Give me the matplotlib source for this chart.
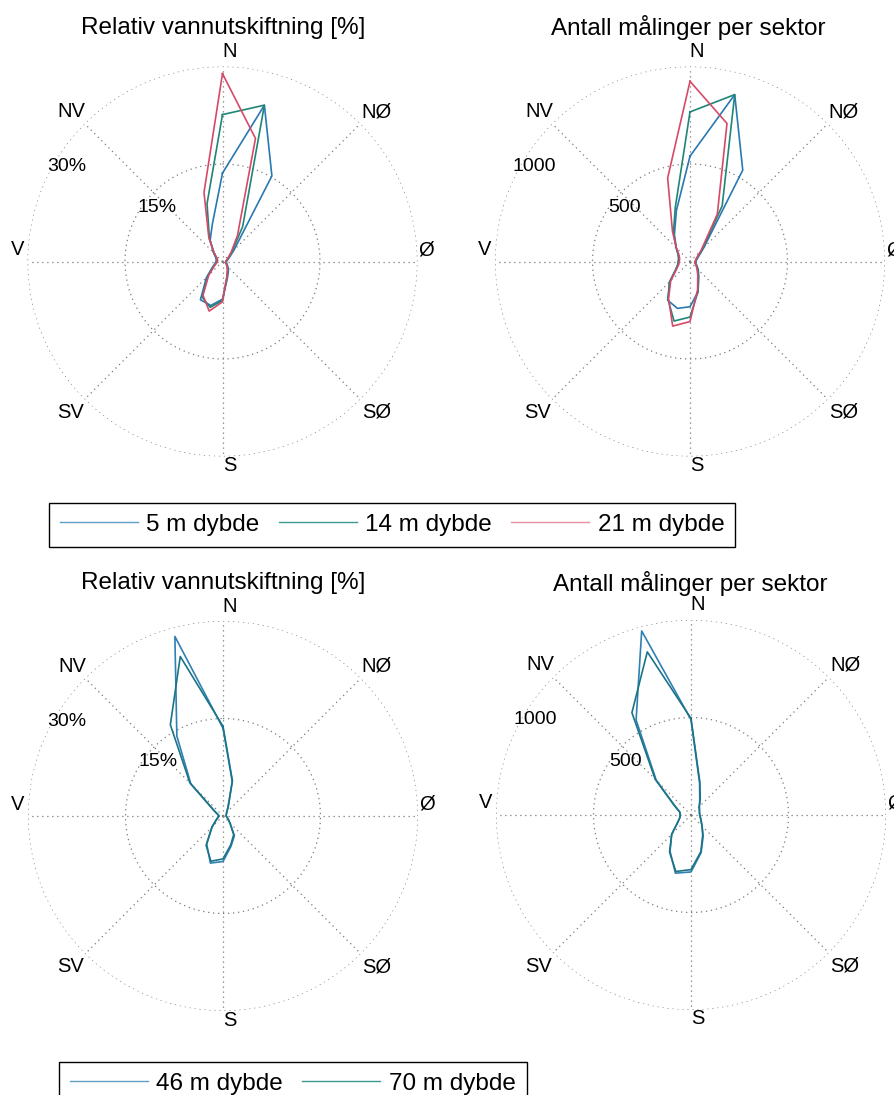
import numpy as np
import matplotlib
matplotlib.use("Agg")
import matplotlib.pyplot as plt
from matplotlib.lines import Line2D

plt.rcParams['font.family'] = ['Liberation Sans', 'DejaVu Sans']

W, H = 894, 1095

# sector directions (deg, clockwise from north)
directions = [0, 15, 30, 45, 60, 75, 90, 105, 120, 135, 150, 165,
              180, 195, 210, 225, 240, 255, 270, 285, 300, 315, 330, 345]

# upper pair: relative water exchange [%]
pct_5m = [13.6, 24.9, 15.2, 2.5, 1.2, 0.8, 0.6, 0.6, 0.8, 1.2, 1.8, 2.8,
          5.8, 7.0, 6.8, 3.5, 1.8, 1.2, 1.0, 1.0, 1.2, 2.0, 3.8, 6.0]
pct_14m = [22.6, 24.9, 6.2, 2.0, 1.0, 0.7, 0.5, 0.5, 0.7, 1.0, 1.6, 2.6,
           6.0, 7.3, 6.3, 3.2, 1.6, 1.0, 0.8, 0.8, 1.0, 1.8, 4.0, 9.2]
pct_21m = [28.9, 19.6, 4.6, 1.8, 0.9, 0.6, 0.5, 0.5, 0.6, 1.0, 1.5, 2.5,
           6.2, 7.9, 6.0, 3.0, 1.5, 1.0, 0.8, 0.8, 1.0, 1.8, 4.2, 11.0]

# upper pair: number of measurements per sector
n_5m = [540, 886, 541, 100, 50, 35, 30, 30, 40, 60, 90, 160,
        232, 249, 229, 145, 85, 65, 60, 60, 70, 100, 160, 270]
n_14m = [767, 886, 330, 90, 45, 32, 28, 28, 38, 55, 85, 160,
         285, 316, 225, 150, 85, 65, 60, 60, 70, 100, 170, 290]
n_21m = [924, 733, 280, 80, 40, 30, 25, 25, 35, 50, 80, 150,
         308, 343, 220, 140, 80, 60, 55, 55, 65, 100, 180, 443]

# lower pair
pct_46m = [13.5, 5.5, 1.5, 0.8, 0.6, 0.5, 0.5, 0.6, 0.9, 1.5, 3.5, 4.8,
           7.0, 7.5, 5.0, 2.4, 1.2, 0.8, 0.6, 0.8, 1.5, 7.0, 14.2, 28.6]
pct_70m = [13.8, 5.6, 1.6, 0.8, 0.6, 0.5, 0.5, 0.6, 0.9, 1.5, 3.3, 4.6,
           6.6, 7.2, 5.2, 2.4, 1.2, 0.8, 0.6, 0.8, 1.5, 7.2, 16.2, 25.4]
n_46m = [489, 170, 90, 60, 50, 45, 45, 50, 60, 80, 125, 200,
         292, 309, 215, 140, 80, 60, 55, 60, 97, 252, 563, 977]
n_70m = [495, 175, 95, 60, 50, 45, 45, 50, 60, 80, 120, 195,
         280, 300, 220, 140, 80, 60, 55, 60, 100, 260, 606, 866]

compass = ['N', 'NØ', 'Ø', 'SØ', 'S', 'SV', 'V', 'NV']
compass_off = [(7, -210), (154, -150), (204, -12), (154, 151),
               (7, 204), (-152, 151), (-205, -12), (-151, -150)]

c5, c14, c21 = '#2a78b2', '#1f8576', '#d64a68'
c46, c70 = '#2f80b3', '#1a7486'
grid_color = '#7a7a7a'
R = 195


def add_rose(fig, cx, cy, rmax, ring_labels):
    ax = fig.add_axes([(cx - R) / W, (H - cy - R) / H, 2 * R / W, 2 * R / H],
                      projection='polar')
    ax.set_theta_zero_location('N')
    ax.set_theta_direction(-1)
    ax.set_ylim(0, rmax)
    ax.set_axis_off()
    t = np.linspace(0, 2 * np.pi, 361)
    for r in (rmax / 2, rmax):
        ax.plot(t, np.full_like(t, r), ls=(0, (1, 3)), color=grid_color, lw=0.9)
    for a in range(0, 360, 45):
        ax.plot([np.deg2rad(a)] * 2, [0, rmax], ls=(0, (1, 3)), color=grid_color, lw=0.9)
    for lab, (dx, dy) in zip(compass, compass_off):
        ax.text(0.5 + dx / (2 * R), 0.5 - dy / (2 * R), lab, transform=ax.transAxes,
                ha='center', va='center', fontsize=14.5, clip_on=False)
    for lab, (dx, dy) in zip(ring_labels, [(-65, -54), (-156, -95)]):
        ax.text(0.5 + dx / (2 * R), 0.5 - dy / (2 * R), lab, transform=ax.transAxes,
                ha='center', va='center', fontsize=14)
    return ax


def draw(ax, values, color):
    th = np.deg2rad(directions + directions[:1])
    ax.plot(th, values + values[:1], color=color, lw=1.2)


fig = plt.figure(figsize=(W / 100, H / 100), dpi=100)

ax1 = add_rose(fig, 222.5, 261.5, 30, ['15%', '30%'])
ax2 = add_rose(fig, 690, 261.5, 1000, ['500', '1000'])
ax3 = add_rose(fig, 223, 816, 30, ['15%', '30%'])
ax4 = add_rose(fig, 691, 815, 1000, ['500', '1000'])

for vals, col in [(pct_5m, c5), (pct_14m, c14), (pct_21m, c21)]:
    draw(ax1, vals, col)
for vals, col in [(n_5m, c5), (n_14m, c14), (n_21m, c21)]:
    draw(ax2, vals, col)
for vals, col in [(pct_46m, c46), (pct_70m, c70)]:
    draw(ax3, vals, col)
for vals, col in [(n_46m, c46), (n_70m, c70)]:
    draw(ax4, vals, col)

for x, y, s in [(223, 28, 'Relativ vannutskiftning [%]'),
                (688, 28, 'Antall målinger per sektor'),
                (223, 583, 'Relativ vannutskiftning [%]'),
                (690, 583, 'Antall målinger per sektor')]:
    fig.text(x / W, 1 - y / H, s, ha='center', va='center', fontsize=17.5)

leg_kw = dict(loc='upper left', frameon=True, fancybox=False, edgecolor='black',
              fontsize=17.5, handlelength=3.2, handletextpad=0.35,
              columnspacing=0.8, borderpad=0.45, borderaxespad=0, framealpha=1)
h1 = [Line2D([], [], color=c, lw=1.0) for c in ('#5d9fc4', '#3c9a93', '#e8909f')]
leg1 = fig.legend(h1, ['5 m dybde', '14 m dybde', '21 m dybde'], ncol=3,
                  bbox_to_anchor=(49 / W, 1 - 503 / H), **leg_kw)
leg1.get_frame().set_linewidth(1.0)
h2 = [Line2D([], [], color=c, lw=1.0) for c in ('#5d9fc4', '#3c9a93')]
leg2 = fig.legend(h2, ['46 m dybde', '70 m dybde'], ncol=2,
                  bbox_to_anchor=(59 / W, 1 - 1062 / H), **leg_kw)
leg2.get_frame().set_linewidth(1.0)

fig.savefig('out.png', dpi=100)
